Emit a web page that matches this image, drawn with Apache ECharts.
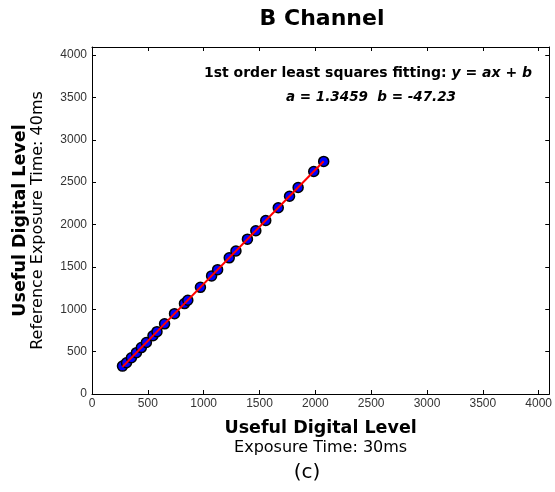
<!DOCTYPE html>
<html><head><meta charset="utf-8">
<script src="https://cdn.jsdelivr.net/npm/echarts@6/dist/echarts.min.js"></script>
<style>html,body{margin:0;padding:0;background:#fff}#c{width:555px;height:492px}</style>
</head><body><div id="c"></div>
<script>
const xTicks = [0, 500, 1000, 1500, 2000, 2500, 3000, 3500, 4000];
const yTicks = [0, 500, 1000, 1500, 2000, 2500, 3000, 3500, 4000];
const xData = [273, 309, 353, 398, 442, 487, 546, 582, 650, 739, 828, 858, 971, 1071, 1125, 1229, 1289, 1392, 1467, 1556, 1668, 1769, 1846, 1986, 2075];
const yData = [329, 369, 428, 488, 548, 608, 688, 736, 828, 948, 1067, 1107, 1259, 1394, 1467, 1607, 1687, 1827, 1927, 2047, 2198, 2334, 2437, 2626, 2745];
const fitX = [273, 2075];
const fitY = [320, 2746];

const F = 'Liberation Sans, Arial, sans-serif';
const D = 'DejaVu Sans, sans-serif';
const chart = echarts.init(document.getElementById('c'));
const lbl = v => (xTicks.indexOf(v) >= 0 ? String(v) : '');
const baseAxis = {
  type: 'value', min: 0, max: 4095, interval: 500,
  axisLine: {show: true, onZero: false, lineStyle: {color: '#000', width: 1}},
  axisTick: {show: true, inside: true, length: 4, lineStyle: {color: '#000'}},
  splitLine: {show: false}
};
chart.setOption({
  animation: false,
  backgroundColor: '#fff',
  grid: {left: 92, right: 3, top: 47, bottom: 98},
  xAxis: [
    Object.assign({}, baseAxis, {position: 'bottom',
      axisLabel: {formatter: lbl, fontFamily: F, fontSize: 12, color: '#333', margin: 4},
      name: '{a|Useful Digital Level}\n{b|Exposure Time: 30ms}',
      nameLocation: 'middle', nameGap: 24,
      nameTextStyle: {rich: {
        a: {fontFamily: D, fontSize: 17.5, fontWeight: 'bold', color: '#000', lineHeight: 20},
        b: {fontFamily: D, fontSize: 16, color: '#000', lineHeight: 20}}}}),
    Object.assign({}, baseAxis, {position: 'top', axisLabel: {show: false}})
  ],
  yAxis: [
    Object.assign({}, baseAxis, {position: 'left',
      axisLabel: {formatter: v => (yTicks.indexOf(v) >= 0 ? String(v) : ''), fontFamily: F, fontSize: 12, color: '#333', margin: 5},
      name: '{a|Useful Digital Level}\n{b|Reference Exposure Time: 40ms}',
      nameLocation: 'middle', nameGap: 45, nameRotate: 90,
      nameTextStyle: {rich: {
        a: {fontFamily: D, fontSize: 17.5, fontWeight: 'bold', color: '#000', lineHeight: 18},
        b: {fontFamily: D, fontSize: 16, color: '#000', lineHeight: 18}}}}),
    Object.assign({}, baseAxis, {position: 'right', axisLabel: {show: false}})
  ],
  graphic: [
    {type: 'text', x: 322, y: 19, style: {
      text: 'B Channel', align: 'center', verticalAlign: 'middle',
      font: 'bold 22px ' + D, fill: '#000'}},
    {type: 'text', x: 368, y: 73, style: {
      text: '{n|1st order least squares fitting: }{i|y}{n| = }{i|ax}{n| + }{i|b}',
      align: 'center', verticalAlign: 'middle',
      rich: {n: {fontFamily: D, fontSize: 14, fontWeight: 'bold', fill: '#000'},
             i: {fontFamily: D, fontSize: 14, fontWeight: 'bold', fontStyle: 'italic', fill: '#000'}}}},
    {type: 'text', x: 371, y: 97, style: {
      text: 'a = 1.3459  b = -47.23', align: 'center', verticalAlign: 'middle',
      font: 'italic bold 13.5px ' + D, fill: '#000'}},
    {type: 'text', x: 307, y: 473, style: {
      text: '(c)', align: 'center', verticalAlign: 'middle',
      font: '20px ' + D, fill: '#000'}}
  ],
  series: [
    {type: 'scatter', data: xData.map((x, i) => [x, yData[i]]), symbol: 'circle', symbolSize: 10,
      itemStyle: {color: '#0000ff', borderColor: '#000', borderWidth: 1.5, opacity: 1}, z: 2},
    {type: 'line', data: fitX.map((x, i) => [x, fitY[i]]), symbol: 'none',
      lineStyle: {color: '#ff0000', width: 2}, z: 3}
  ]
});
</script></body></html>
